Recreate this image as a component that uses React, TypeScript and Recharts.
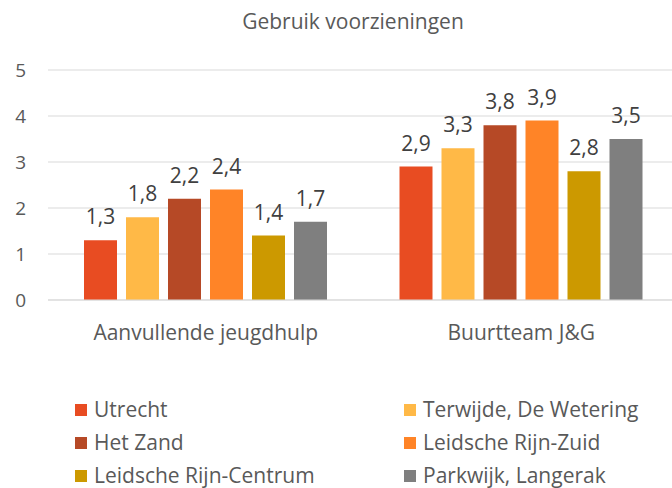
import { BarChart, Bar, XAxis, YAxis, CartesianGrid, LabelList } from 'recharts'

const categories = ['Aanvullende jeugdhulp', 'Buurtteam J&G']
const seriesNames = ['Utrecht', 'Terwijde, De Wetering', 'Het Zand', 'Leidsche Rijn-Zuid', 'Leidsche Rijn-Centrum', 'Parkwijk, Langerak']
const utrecht = [1.3, 2.9]
const terwijde = [1.8, 3.3]
const hetZand = [2.2, 3.8]
const lrZuid = [2.4, 3.9]
const lrCentrum = [1.4, 2.8]
const parkwijk = [1.7, 3.5]
const yTicks = [0, 1, 2, 3, 4, 5]

const colors = ['#E84C22', '#FFB947', '#B64926', '#FF8427', '#CC9900', '#7F7F7F']
const keys = ['s0', 's1', 's2', 's3', 's4', 's5']
const seriesValues = [utrecht, terwijde, hetZand, lrZuid, lrCentrum, parkwijk]

const data = categories.map((name, i) => {
  const row: Record<string, string | number> = { name }
  seriesValues.forEach((vals, s) => {
    row[keys[s]] = vals[i]
  })
  return row
})

const font = '"Open Sans", sans-serif'
const fmt = (v: any) => String(v).replace('.', ',')

function LegendGrid() {
  const cols = [75, 404]
  return (
    <div style={{ position: 'absolute', top: 393, left: 0, width: 672, height: 95, fontFamily: font, fontSize: 21, color: '#595959' }}>
      {seriesNames.map((n, i) => (
        <div
          key={n}
          style={{
            position: 'absolute',
            left: cols[i % 2],
            top: Math.floor(i / 2) * 33 + 6,
            display: 'flex',
            alignItems: 'center',
            height: 21,
            lineHeight: '21px',
            whiteSpace: 'nowrap',
          }}
        >
          <span style={{ width: 12, height: 12, background: colors[i], marginRight: 7, display: 'inline-block' }} />
          {n}
        </div>
      ))}
    </div>
  )
}

export default function App() {
  return (
    <div style={{ position: 'absolute', left: 0, top: 0, width: 672, height: 488, overflow: 'hidden', background: '#fff' }}>
      <div style={{ position: 'absolute', top: 7, left: 33, width: 640, textAlign: 'center', fontFamily: font, fontSize: 21, color: '#595959' }}>
        Gebruik voorzieningen
      </div>
      <BarChart
        width={679}
        height={488}
        data={data}
        margin={{ top: 70, right: 0, left: 0, bottom: 148 }}
        barCategoryGap={36}
        barGap={9}
      >
        <CartesianGrid vertical={false} stroke="#d9d9d9" />
        <XAxis
          dataKey="name"
          height={40}
          tickSize={0}
          tickMargin={25}
          interval={0}
          axisLine={{ stroke: '#d9d9d9' }}
          tickLine={false}
          tick={{ fontSize: 21, fill: '#595959', fontFamily: font }}
        />
        <YAxis
          width={48}
          domain={[0, 5]}
          ticks={yTicks}
          interval={0}
          axisLine={false}
          tickLine={false}
          tickSize={0}
          tickMargin={22}
          tick={{ fontSize: 19, fill: '#595959', fontFamily: font }}
        />
        {keys.map((k, i) => (
          <Bar key={k} dataKey={k} name={seriesNames[i]} fill={colors[i]} barSize={33} isAnimationActive={false}>
            <LabelList
              dataKey={k}
              position="top"
              offset={16}
              formatter={fmt}
              style={{ fontSize: 21, fill: '#404040', fontFamily: font }}
            />
          </Bar>
        ))}
      </BarChart>
      <LegendGrid />
    </div>
  )
}
